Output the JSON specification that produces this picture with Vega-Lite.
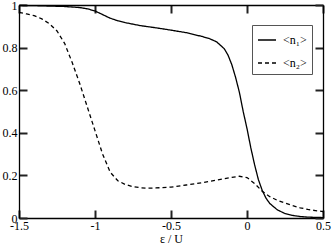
{
  "$schema": "https://vega.github.io/schema/vega-lite/v6.json",
  "width": 304,
  "height": 213,
  "autosize": {"type": "none"},
  "padding": {"left": 19, "top": 5, "right": 9, "bottom": 27},
  "background": "white",
  "config": {
    "view": {"stroke": null},
    "font": "Liberation Serif",
    "axis": {
      "grid": false,
      "ticks": true,
      "domainColor": "black",
      "domainWidth": 1.3,
      "labelFont": "Liberation Serif",
      "labelFontSize": 12,
      "labelColor": "black",
      "titleFont": "Liberation Serif",
      "titleFontSize": 12,
      "titleFontWeight": "normal",
      "titleColor": "black",
      "labelFlush": false,
      "labelOverlap": false
    },
    "legend": {
      "labelFont": "Liberation Serif",
      "labelFontSize": 12,
      "labelColor": "black"
    }
  },
  "data": {
    "values": [
      {"eps": -1.5, "n": 0.998, "series": "<n₁>"},
      {"eps": -1.4, "n": 0.997, "series": "<n₁>"},
      {"eps": -1.3, "n": 0.995, "series": "<n₁>"},
      {"eps": -1.2, "n": 0.993, "series": "<n₁>"},
      {"eps": -1.1, "n": 0.988, "series": "<n₁>"},
      {"eps": -1.05, "n": 0.982, "series": "<n₁>"},
      {"eps": -1.0, "n": 0.972, "series": "<n₁>"},
      {"eps": -0.95, "n": 0.955, "series": "<n₁>"},
      {"eps": -0.9, "n": 0.938, "series": "<n₁>"},
      {"eps": -0.85, "n": 0.926, "series": "<n₁>"},
      {"eps": -0.8, "n": 0.917, "series": "<n₁>"},
      {"eps": -0.75, "n": 0.91, "series": "<n₁>"},
      {"eps": -0.7, "n": 0.903, "series": "<n₁>"},
      {"eps": -0.6, "n": 0.893, "series": "<n₁>"},
      {"eps": -0.5, "n": 0.882, "series": "<n₁>"},
      {"eps": -0.4, "n": 0.87, "series": "<n₁>"},
      {"eps": -0.3, "n": 0.853, "series": "<n₁>"},
      {"eps": -0.25, "n": 0.843, "series": "<n₁>"},
      {"eps": -0.2, "n": 0.827, "series": "<n₁>"},
      {"eps": -0.15, "n": 0.795, "series": "<n₁>"},
      {"eps": -0.125, "n": 0.765, "series": "<n₁>"},
      {"eps": -0.1, "n": 0.72, "series": "<n₁>"},
      {"eps": -0.075, "n": 0.66, "series": "<n₁>"},
      {"eps": -0.05, "n": 0.59, "series": "<n₁>"},
      {"eps": -0.025, "n": 0.5, "series": "<n₁>"},
      {"eps": 0.0, "n": 0.42, "series": "<n₁>"},
      {"eps": 0.025, "n": 0.33, "series": "<n₁>"},
      {"eps": 0.05, "n": 0.25, "series": "<n₁>"},
      {"eps": 0.075, "n": 0.18, "series": "<n₁>"},
      {"eps": 0.1, "n": 0.13, "series": "<n₁>"},
      {"eps": 0.125, "n": 0.093, "series": "<n₁>"},
      {"eps": 0.15, "n": 0.068, "series": "<n₁>"},
      {"eps": 0.2, "n": 0.038, "series": "<n₁>"},
      {"eps": 0.25, "n": 0.021, "series": "<n₁>"},
      {"eps": 0.3, "n": 0.012, "series": "<n₁>"},
      {"eps": 0.35, "n": 0.007, "series": "<n₁>"},
      {"eps": 0.4, "n": 0.004, "series": "<n₁>"},
      {"eps": 0.5, "n": 0.002, "series": "<n₁>"},
      {"eps": -1.5, "n": 0.965, "series": "<n₂>"},
      {"eps": -1.45, "n": 0.958, "series": "<n₂>"},
      {"eps": -1.4, "n": 0.95, "series": "<n₂>"},
      {"eps": -1.35, "n": 0.935, "series": "<n₂>"},
      {"eps": -1.3, "n": 0.912, "series": "<n₂>"},
      {"eps": -1.25, "n": 0.878, "series": "<n₂>"},
      {"eps": -1.2, "n": 0.82, "series": "<n₂>"},
      {"eps": -1.15, "n": 0.73, "series": "<n₂>"},
      {"eps": -1.1, "n": 0.63, "series": "<n₂>"},
      {"eps": -1.05, "n": 0.52, "series": "<n₂>"},
      {"eps": -1.0, "n": 0.41, "series": "<n₂>"},
      {"eps": -0.95, "n": 0.3, "series": "<n₂>"},
      {"eps": -0.9, "n": 0.215, "series": "<n₂>"},
      {"eps": -0.85, "n": 0.175, "series": "<n₂>"},
      {"eps": -0.8, "n": 0.157, "series": "<n₂>"},
      {"eps": -0.75, "n": 0.147, "series": "<n₂>"},
      {"eps": -0.7, "n": 0.142, "series": "<n₂>"},
      {"eps": -0.65, "n": 0.14, "series": "<n₂>"},
      {"eps": -0.6, "n": 0.141, "series": "<n₂>"},
      {"eps": -0.5, "n": 0.145, "series": "<n₂>"},
      {"eps": -0.4, "n": 0.155, "series": "<n₂>"},
      {"eps": -0.3, "n": 0.165, "series": "<n₂>"},
      {"eps": -0.2, "n": 0.178, "series": "<n₂>"},
      {"eps": -0.1, "n": 0.191, "series": "<n₂>"},
      {"eps": -0.05, "n": 0.196, "series": "<n₂>"},
      {"eps": 0.0, "n": 0.19, "series": "<n₂>"},
      {"eps": 0.05, "n": 0.162, "series": "<n₂>"},
      {"eps": 0.1, "n": 0.126, "series": "<n₂>"},
      {"eps": 0.15, "n": 0.1, "series": "<n₂>"},
      {"eps": 0.2, "n": 0.083, "series": "<n₂>"},
      {"eps": 0.25, "n": 0.07, "series": "<n₂>"},
      {"eps": 0.3, "n": 0.058, "series": "<n₂>"},
      {"eps": 0.35, "n": 0.048, "series": "<n₂>"},
      {"eps": 0.4, "n": 0.04, "series": "<n₂>"},
      {"eps": 0.45, "n": 0.035, "series": "<n₂>"},
      {"eps": 0.5, "n": 0.03, "series": "<n₂>"}
    ]
  },
  "resolve": {"axis": {"x": "independent", "y": "independent"}},
  "layer": [
    {
      "mark": {"type": "line", "color": "black", "strokeWidth": 1.3},
      "encoding": {
        "x": {
          "field": "eps", "type": "quantitative",
          "scale": {"domain": [-1.5, 0.5], "nice": false, "zero": false},
          "axis": {
            "orient": "bottom",
            "title": "ε / U",
            "tickSize": -8,
            "tickColor": "#222222",
            "tickWidth": 2,
            "tickOpacity": 1,
            "values": [-1.5, -1, -0.5, 0, 0.5],
            "labelExpr": "(datum.value < 0 ? '-' : '') + toString(abs(datum.value))",
            "labelPadding": 10,
            "titlePadding": 2
          }
        },
        "y": {
          "field": "n", "type": "quantitative",
          "scale": {"domain": [0, 1], "nice": false},
          "axis": {
            "orient": "left",
            "title": null,
            "tickSize": -8,
            "tickColor": "#222222",
            "tickWidth": 2,
            "tickOpacity": 1,
            "values": [0, 0.2, 0.4, 0.6, 0.8, 1],
            "labelExpr": "toString(datum.value)",
            "labelPadding": 10
          }
        },
        "strokeDash": {
          "field": "series", "type": "nominal",
          "scale": {"domain": ["<n₁>", "<n₂>"], "range": [[1, 0], [4, 3]]},
          "legend": {
            "title": null,
            "orient": "none",
            "legendX": 233,
            "legendY": 20,
            "symbolType": "stroke",
            "symbolSize": 324,
            "symbolStrokeWidth": 1.3,
            "symbolStrokeColor": "black",
            "strokeColor": "#555",
            "padding": 5,
            "rowPadding": 7,
            "labelOffset": 6,
            "fillColor": "white"
          }
        }
      }
    },
    {
      "mark": {"type": "line", "opacity": 0},
      "encoding": {
        "x": {
          "field": "eps", "type": "quantitative",
          "axis": {
            "orient": "top",
            "title": null,
            "labels": false,
            "tickSize": -8,
            "tickColor": "#222222",
            "tickWidth": 2,
            "tickOpacity": 1,
            "values": [-1.5, -1, -0.5, 0, 0.5]
          }
        },
        "y": {
          "field": "n", "type": "quantitative",
          "axis": {
            "orient": "right",
            "title": null,
            "labels": false,
            "tickSize": -8,
            "tickColor": "#222222",
            "tickWidth": 2,
            "tickOpacity": 1,
            "values": [0, 0.2, 0.4, 0.6, 0.8, 1]
          }
        },
        "detail": {"field": "series", "type": "nominal"}
      }
    }
  ]
}
